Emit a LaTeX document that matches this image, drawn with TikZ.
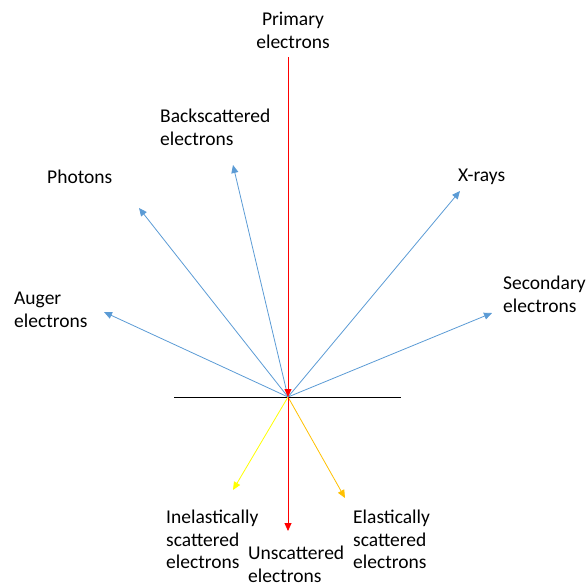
\documentclass[tikz,border=0pt]{standalone}
\usepackage{fontspec}
\setmainfont{Carlito}
\usetikzlibrary{arrows.meta}
\definecolor{ablue}{HTML}{5B9BD5}
\definecolor{ared}{HTML}{FF0000}
\definecolor{ayellow}{HTML}{FFFF00}
\definecolor{aorange}{HTML}{FFC000}
\begin{document}
\begin{tikzpicture}[x=1pt,y=-1pt,
  lbl/.style={inner sep=0pt,align=left,font=\fontsize{19.5}{22.5}\selectfont},
  ray/.style={line width=0.8pt,-{Triangle[length=8pt,width=7pt]}}]
\useasboundingbox (0,0) rectangle (587,584);
\coordinate (O) at (288,397);
\coordinate (top) at (288,57);
\coordinate (aug) at (104,312);
\coordinate (pho) at (139,208);
\coordinate (bs) at (233,165);
\coordinate (xr) at (460,191);
\coordinate (sec) at (492,313);
\coordinate (inel) at (233,490);
\coordinate (el) at (345,498);
\coordinate (uns) at (288,531);
\coordinate (hl) at (174,397);
\coordinate (hr) at (401,397);
\draw[line width=0.8pt] (hl) -- (hr);
\draw[ray,ablue] (O) -- (aug);
\draw[ray,ablue] (O) -- (pho);
\draw[ray,ablue] (O) -- (bs);
\draw[ray,ablue] (O) -- (xr);
\draw[ray,ablue] (O) -- (sec);
\draw[ray,ayellow] (O) -- (inel);
\draw[ray,aorange] (O) -- (el);
\draw[ray,ared] (top) -- (O);
\draw[ray,ared] (O) -- (uns);
\node[lbl,anchor=north,align=center] (tp) at (293,12) {Primary\\electrons};
\node[lbl,anchor=north west] (tbs) at (160,109) {Backscattered\\electrons};
\node[lbl,anchor=north west] (tph) at (47,170) {Photons};
\node[lbl,anchor=north west] (txr) at (458,169) {X-rays};
\node[lbl,anchor=north west] (tau) at (14,292) {Auger\\electrons};
\node[lbl,anchor=north west] (tse) at (503,276) {Secondary\\electrons};
\node[lbl,anchor=north west] (tin) at (166,510) {Inelastically\\scattered\\electrons};
\node[lbl,anchor=north west] (tun) at (248,546) {Unscattered\\electrons};
\node[lbl,anchor=north west] (tel) at (353,510) {Elastically\\scattered\\electrons};
\end{tikzpicture}
\end{document}
